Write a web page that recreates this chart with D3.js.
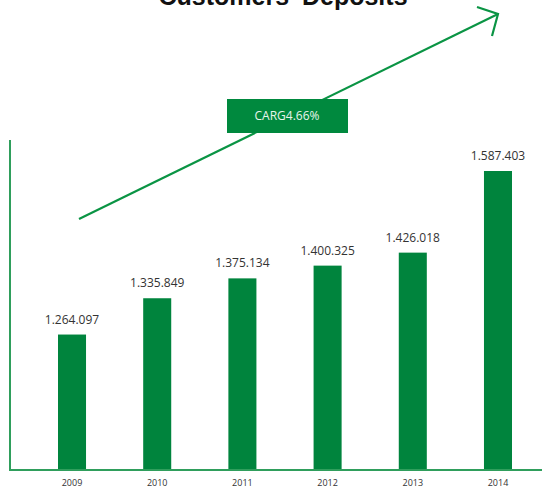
<!DOCTYPE html>
<html>
<head>
<meta charset="utf-8">
<script src="https://cdn.jsdelivr.net/npm/d3@7"></script>
<style>
	body { margin: 0; background: #fff; }
	svg { display: block; }
</style>
</head>
<body>
<div id="chart"></div>
<script>
// Data
const years = ["2009", "2010", "2011", "2012", "2013", "2014"];
const deposits = [1264097, 1335849, 1375134, 1400325, 1426018, 1587403];
const titleText = "Customers' Deposits";
const cagrLabel = "CARG4.66%";

const width = 542;
const height = 490;
const margin = { top: 140, left: 10, right: 0, bottom: 20 };
const baseY = height - margin.bottom;

const green = "#00843d";
const lineGreen = "#2f9e5c";

const svg = d3
	.select("#chart")
	.append("svg")
	.attr("width", width)
	.attr("height", height);

// band scale for the years, bars roughly 28px wide
const x = d3
	.scaleBand()
	.domain(years)
	.range([58, 512])
	.paddingInner(0.671)
	.paddingOuter(0);

// the original bars do not start at zero
const y = d3
	.scaleLinear()
	.domain([996300, 1587403])
	.range([baseY, 171]);

// thousands separated with dots
const fmt = d3.formatLocale({ decimal: ",", thousands: ".", grouping: [3], currency: ["", ""] }).format(",d");

// Title, mostly cut off at the top edge (as in the original)
svg.append("text")
	.attr("x", 283)
	.attr("y", 5)
	.attr("text-anchor", "middle")
	.style("font-family", "'Liberation Sans', Arial, sans-serif")
	.style("font-weight", "bold")
	.style("font-size", "25px")
	.attr("fill", "#111")
	.text(titleText);

// Bars
svg.append("g")
	.selectAll("rect")
	.data(deposits)
	.join("rect")
	.attr("x", (d, i) => x(years[i]))
	.attr("y", (d) => y(d))
	.attr("width", x.bandwidth())
	.attr("height", (d) => baseY - y(d))
	.attr("fill", green);

// Value labels above bars
svg.append("g")
	.selectAll("text")
	.data(deposits)
	.join("text")
	.attr("x", (d, i) => x(years[i]) + x.bandwidth() / 2)
	.attr("y", (d) => y(d) - 11)
	.attr("text-anchor", "middle")
	.style("font-family", "'Open Sans', sans-serif")
	.style("font-size", "12px")
	.attr("fill", "#333")
	.text((d) => fmt(d));

// Axes: plain green lines, no ticks
const xAxis = svg.append("g")
	.attr("transform", `translate(0,${baseY})`)
	.call(d3.axisBottom(x).tickSize(0).tickPadding(10));
xAxis.select(".domain")
	.attr("d", `M9,0H${width}`)
	.attr("stroke", lineGreen)
	.attr("stroke-width", 2);
xAxis.selectAll("text")
	.style("font-family", "'Open Sans', sans-serif")
	.style("font-size", "9px")
	.attr("fill", "#333");

svg.append("line")
	.attr("x1", 10)
	.attr("x2", 10)
	.attr("y1", margin.top)
	.attr("y2", baseY + 1)
	.attr("stroke", lineGreen)
	.attr("stroke-width", 2);

// Growth arrow
const arrowStart = [79, 219];
const arrowTip = [498, 14];
svg.append("line")
	.attr("x1", arrowStart[0])
	.attr("y1", arrowStart[1])
	.attr("x2", arrowTip[0])
	.attr("y2", arrowTip[1])
	.attr("stroke", "#0a9444")
	.attr("stroke-width", 2.2);
svg.append("path")
	.attr("d", `M477,7L${arrowTip[0]},${arrowTip[1]}L492,36`)
	.attr("fill", "none")
	.attr("stroke", "#0a9444")
	.attr("stroke-width", 2.2);

// CAGR box
svg.append("rect")
	.attr("x", 227)
	.attr("y", 99)
	.attr("width", 121)
	.attr("height", 34)
	.attr("fill", "#00893e");
svg.append("text")
	.attr("x", 287)
	.attr("y", 120)
	.attr("text-anchor", "middle")
	.style("font-family", "'Open Sans', sans-serif")
	.style("font-size", "12px")
	.attr("fill", "#e8f5ec")
	.text(cagrLabel);
</script>
</body>
</html>
